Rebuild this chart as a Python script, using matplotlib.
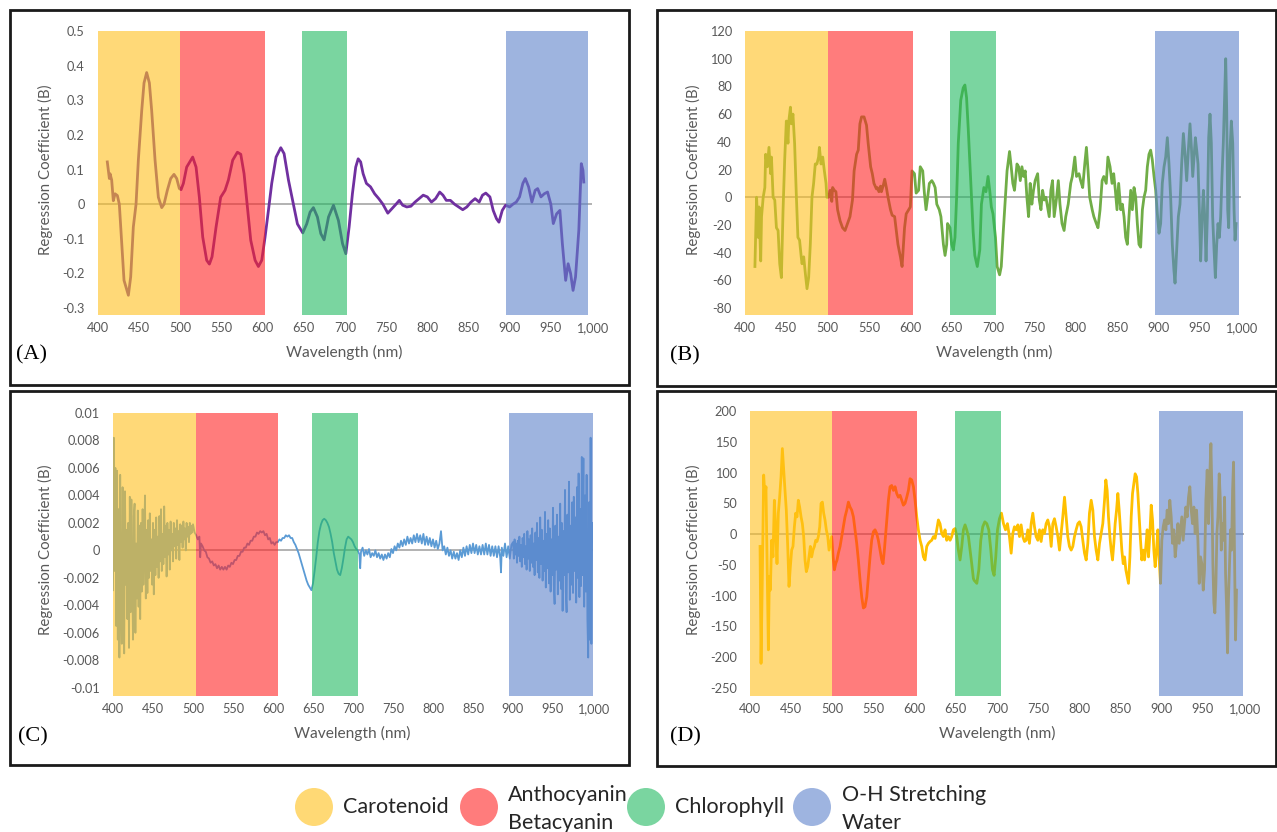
import matplotlib
matplotlib.use('Agg')
import matplotlib.pyplot as plt
from matplotlib.patches import Rectangle, Ellipse

# ---------------- DATA ----------------
x_ticks = [400, 450, 500, 550, 600, 650, 700, 750, 800, 850, 900, 950, 1000]
x_tick_labels = ['400', '450', '500', '550', '600', '650', '700', '750', '800',
                 '850', '900', '950', '1,000']

band_names = ['Carotenoid', 'Anthocyanin\nBetacyanin', 'Chlorophyll', 'O-H Stretching\nWater']

# Panel A
A_nm = [411.3, 413.8, 414.6, 416.6, 418.6, 420.7, 423.5, 425.9, 428.8, 431.6, 434, 436.9, 439.7,
        442.9, 446.2, 449, 453.1, 455.9, 459.1, 462.4, 465.2, 469.3, 473.3, 477.4, 480.2, 484.2,
        488.3, 492.3, 495.6, 498.8, 500.9, 503.7, 507.7, 515, 519.1, 523.1, 527.2, 532, 535.3,
        538.5, 543.4, 549, 554.3, 558.4, 563.6, 569.3, 573.4, 577.4, 581.4, 585.5, 590.8, 594.8,
        598.9, 602.9, 607, 611, 616.3, 622, 626, 631.3, 637.3, 642.2, 648.7, 653.5, 657.6, 661.6,
        666.5, 670.6, 674.6, 680, 686, 692, 697, 701, 705, 709, 713, 716, 719, 722, 726, 731, 736,
        741, 746, 752, 757, 762, 766, 770, 775, 780, 785, 790, 795, 800, 805, 810, 815, 819, 823,
        828, 833, 838, 843, 848, 853, 858, 863, 867, 871, 876, 880, 884, 887, 891, 895, 900, 904,
        908, 912, 916, 919, 923, 927, 931, 934, 938, 942, 946, 950, 953, 957, 961, 964, 968, 971,
        974, 977, 980, 984, 987, 989, 990]
A_val = [0.122, 0.074, 0.088, 0.07, 0.01, 0.03, 0.025, 0.0, -0.11, -0.22, -0.24, -0.263, -0.21,
         -0.066, 0.0, 0.127, 0.27, 0.35, 0.38, 0.35, 0.27, 0.127, 0.02, -0.01, 0.0, 0.04,
         0.074, 0.086, 0.074, 0.045, 0.042, 0.06, 0.107, 0.136, 0.107, 0.02, -0.095, -0.162, -0.173,
         -0.152, -0.066, 0.02, 0.04, 0.07, 0.127, 0.15, 0.144, 0.088, -0.008, -0.104, -0.162, -0.18,
         -0.162, -0.095, -0.018, 0.06, 0.136, 0.163, 0.146, 0.07, 0.0, -0.057, -0.083, -0.057, -0.023, -0.01,
         -0.037, -0.085, -0.103, -0.037, -0.003, -0.047, -0.114, -0.143, -0.066, 0.03, 0.107, 0.131, 0.122, 0.088, 0.06, 0.05, 0.03,
         0.016, 0.0, -0.026, -0.013, 0.0, 0.011, -0.003, -0.008, -0.006, 0.006, 0.016, 0.026, 0.021, 0.006, 0.016, 0.035, 0.026, 0.011,
         0.011, 0.0, -0.008, -0.016, -0.008, 0.006, 0.016, 0.006, 0.026, 0.032, 0.021, -0.018, -0.042, -0.052, -0.018, -0.003, -0.008, 0.0,
         0.006, 0.021, 0.06, 0.074, 0.05, 0.006, 0.04, 0.045, 0.021, 0.03, 0.035, 0.0, -0.056, -0.028, -0.018, -0.114, -0.22, -0.172,
         -0.2, -0.249, -0.21, -0.075, 0.117, 0.098, 0.064]

# Panel B
B_nm = [412, 414, 416, 417, 419, 420, 422, 424, 425, 427, 429, 431, 432, 434, 436, 438, 440, 442, 444,
        445, 446, 448, 450, 452, 453, 455, 456, 458, 460, 462, 464, 466, 468, 469, 471, 473, 475, 477,
        479, 481, 483, 485, 487, 489, 490, 492, 494, 496, 498, 499, 501, 503, 505, 506, 508, 510, 512,
        515, 518, 521, 524, 527, 530, 532, 535, 537, 539, 541, 544, 547, 549, 552, 554, 556, 559, 560,
        562, 564, 565, 567, 569, 571, 573, 576, 578, 581, 583, 585, 588, 590, 591, 593, 595, 598, 600,
        602, 605, 607, 610, 612, 615, 617, 619, 621, 623, 626, 628, 630, 632, 635, 637, 640, 642, 644,
        645, 648, 650, 652, 654, 656, 658, 661, 664, 666, 668, 670, 672, 674, 676, 678, 681, 684, 686,
        689, 691.5, 694, 696, 698, 700, 703, 705, 708, 710, 712.5, 715, 717, 720, 722, 724, 726, 729,
        731, 733, 735, 737, 739, 741, 743, 745, 747, 749, 751, 754, 756, 758, 760, 762, 764, 766, 768,
        770, 772, 774, 777, 779, 781, 783.5, 786, 788, 791, 794, 796, 799, 801, 804, 806, 808.5, 811,
        813, 815, 817, 820, 822, 825, 827, 829.5, 832, 834, 837, 839, 841.6, 844, 846, 848, 850, 852,
        854.5, 856.5, 858.5, 860.5, 862.5, 864.5, 866.6, 868.6, 870.6, 872.6, 874.6, 876.6, 878.6,
        880.7, 882.7, 884.7, 886.7, 888.7, 890.7, 892.7, 894.8, 896.8, 898.8, 900.8, 902.8, 904.8,
        906.9, 908.9, 910.9, 912.9, 914.9, 916.9, 918.9, 920.2, 922.2, 924.2, 926.2, 928.2, 930.3,
        932.3, 934.3, 936.3, 938.3, 940, 941.6, 943.2, 944.8, 946.4, 948, 949.6, 951.2, 952.8, 954.5,
        956.1, 957.7, 959.3, 960.9, 962.5, 964.1, 965.7, 967.4, 969, 970.6, 972.2, 973.8, 975.4, 977,
        978.6, 980.3, 981.5, 982.7, 983.9, 985.1, 986.7, 988.3, 990, 991.6, 992.8, 994]
B_val = [-50, 0, -29, -7, -46, -14, 0, 7, 31, 22, 36, 17, 29, 0, -2, -22, -24, -48, -58,
         -34, -10, 27, 55, 39, 55, 65, 53, 60, 39, 3, -29, -31, -43, -48, -43, -55, -66, -58,
         -34, 0, 10, 24, 24, 29, 36, 24, 29, 19, 10, 0, 0, 5, -3, 7, 5, 4, -9,
         -17, -22, -24, -19, -14, -2, 19, 31, 34, 53, 58, 58, 52, 39, 22, 17, 10, 6, 7,
         4, 8, 4, 8, 13, 7, 0, -9, -13, -14, -24, -34, -43, -50, -41, -22, -12, -9, -7,
         19, 17, 3, 5, 22, 19, 3, -9, 0, 10, 12, 10, 7, -5, -9, -14, -34, -42, -34,
         -19, -22, -34, -38, -29, 0, 39, 70, 79, 81, 72, 50, 25, 0, -25, -42, -50, -38, -5,
         7, 4, 15, 5, -7, -12, -29, -50, -56, -50, -24, 0, 19, 33, 22, 10, 5, 24,
         22, 12, 22, 15, 19, 0, -14, 10, -5, 5, 12, 17, -2, -9, 5, -2, 0, -7, -14,
         5, 12, -14, 0, 12, -5, -19, -24, -14, -5, 10, 15, 29, 15, 17, 12, 7, 24,
         36, 19, 0, -9, -14, -19, -22, -9, 12, 15, 10, 29, 22, 10, 17, 5, -9, 10,
         -9, -5, -14, -29, -34, -14, 5, -9, 7, 0, -19, -34, -36,
         -9, 0, 5, 22, 31, 34, 27, 15, 5, -12, -26, -19, 10,
         22, 29, 43, 24, 0, -34, -53, -62, -38, -14, -5, 24, 46,
         31, 12, 34, 53, 36, 15, 29, 43, 34, 24, -9, -46, -17, 5,
         -14, -46, -14, 43, 60, 39, -14, -38, -58, -34, -19, -29, -14, 15,
         39, 75, 100, 63, -9, -22, 34, 55, 39, -9, -31, -19]

# Panel C (values in units of 0.001)
C_left_nm = list(range(400, 501))
C_left_val = [-2.9, 8.2, -1.5, 6.0, -5.5, 5.8, -6.5, 3.0, -7.8, 5.5, -4.0, -6.8, 4.6, -3.0, -7.5, 4.3,
              -2.5, 1.5, -5.0, 2.0, -7.1, 3.9, -4.5, 3.7, -2.0, -6.5, 2.5, 3.4, -6.0, 0.5, -3.5, 2.9,
              -4.1, 1.8, -5.0, 2.0, -3.0, 3.0, -2.5, 1.0, 4.0, -3.5, 1.5, -3.1, 2.2, -2.0, 2.7, -1.5,
              0.8, -2.5, 2.0, -3.2, 1.5, -1.8, 2.4, -1.2, 1.0, -2.0, 2.5, -0.8, 3.0, -1.5, 1.2, -1.0,
              3.2, -0.5, 1.8, -1.9, 2.0, -0.3, 1.5, -1.4, 2.1, 0.0, 1.2, -0.8, 2.0, 0.3, 1.6, -0.6,
              2.2, 0.4, 1.4, -0.7, 1.9, 0.6, 1.8, 0.2, 2.1, 0.8, 1.6, 0.0, 2.0, 1.0, 1.7, 0.6, 2.0,
              1.2, 1.8, 1.3, 1.9]
C_mid_nm = [502, 504, 506, 508, 509, 510, 512, 514, 516, 518, 520, 522, 524, 526, 528, 530, 532, 534,
            536, 538, 540, 542, 544, 546, 548, 550, 552, 554, 556, 558, 560, 562, 564, 566, 568, 570,
            572, 574, 576, 578, 580, 582, 584, 586, 588, 590, 592, 594, 596, 598, 600, 602, 604, 606,
            608, 610, 612, 614, 616, 618, 620, 622, 624, 626, 628, 630, 632, 634, 636, 638, 640, 642,
            644, 646, 648, 650, 652, 654, 656, 658, 660, 662, 664, 666, 668, 670, 672, 674, 676, 678,
            680, 682, 684, 686, 688, 690, 692, 694, 696, 698, 700, 702, 704, 706, 708, 709, 710, 712,
            714, 716, 718, 720, 722, 724, 726, 728, 730, 732, 734, 736, 738, 740, 742, 744, 746, 748,
            750, 752, 754, 756, 758, 760, 762, 764, 766, 768, 770, 772, 774, 776, 778, 780, 782, 784,
            786, 788, 790, 792, 794, 796, 798, 800, 802, 804, 806, 808, 810, 812, 814, 816, 818, 820,
            822, 824, 826, 828, 830, 832, 834, 836, 838, 840, 842, 844, 846, 848, 850, 852, 854, 856,
            858, 860, 862, 864, 866, 868, 870, 872, 874, 876, 878, 880, 882, 884, 885, 886, 888, 890,
            892, 894, 896, 898]
C_mid_val = [1.3, 1.1, 0.8, 1.0, -0.5, 0.5, 0.3, 0.0, -0.1, -0.5, -0.6, -0.9, -0.8, -1.1, -1.0, -1.3,
             -1.1, -1.4, -1.2, -1.4, -1.2, -1.4, -1.1, -1.2, -0.9, -1.0, -0.7, -0.7, -0.4, -0.4, -0.1,
             -0.1, 0.2, 0.2, 0.5, 0.4, 0.7, 0.7, 1.0, 1.0, 1.3, 1.2, 1.4, 1.3, 1.4, 1.1, 1.2, 0.8, 0.9,
             0.5, 0.6, 0.4, 0.6, 0.6, 0.8, 0.7, 0.9, 0.9, 1.1, 1.0, 1.1, 0.9, 0.9, 0.6, 0.4, 0.1, -0.2,
             -0.6, -1.0, -1.4, -1.8, -2.2, -2.5, -2.7, -2.9, -2.4, -1.5, -0.5, 0.6, 1.4, 1.9, 2.2, 2.3,
             2.2, 2.0, 1.7, 1.2, 0.6, -0.2, -0.8, -1.4, -1.7, -1.8, -1.3, -0.6, 0.2, 0.8, 1.0, 0.9, 0.8,
             0.6, 0.3, 0.1, 0.0, -0.3, -1.3, -0.1, 0.2, -0.4, 0.0, -0.3, 0.1, -0.5, -0.2, -0.4, 0.0, -0.5,
             -0.2, -0.6, -0.3, -0.7, -0.3, -0.6, -0.2, -0.5, 0.1, -0.2, 0.3, 0.0, 0.5, 0.2, 0.7, 0.3, 0.8,
             0.4, 1.0, 0.5, 0.9, 0.5, 1.1, 0.6, 1.2, 0.6, 1.1, 0.5, 1.2, 0.4, 1.0, 0.4, 0.9, 0.3, 0.8, 0.2,
             0.7, 0.1, 0.5, 1.4, 0.0, 0.3, -0.3, 0.2, -0.4, 0.0, -0.6, -0.1, -0.6, -0.2, -0.7, 0.0, -0.5,
             0.2, -0.4, 0.3, -0.3, 0.4, -0.2, 0.5, -0.2, 0.4, -0.3, 0.3, -0.3, 0.4, -0.3, 0.5, -0.3, 0.4,
             -0.4, 0.3, -0.4, 0.3, -0.5, 0.3, -0.5, -1.6, 0.2, -0.4, 0.5, -0.5, 0.3, -0.6, 0.4]
C_right_nm = list(range(900, 1000))
C_right_val = [0.6, -0.6, 0.8, -0.3, 0.5, -0.9, 0.7, -0.4, 1.0, -0.8, 0.4, -1.2, 0.9, -0.5, 1.2, -1.0,
               0.3, -1.4, 1.4, -0.6, 0.8, -1.5, 1.1, -0.9, 1.6, -1.2, 0.5, -1.8, 1.3, -0.7, 2.0, -1.6,
               0.9, -2.0, 2.4, -1.0, 1.5, -2.2, 0.7, -1.5, 2.8, -2.7, 1.2, -1.3, 2.2, -2.4, 1.6, -3.0,
               0.8, -1.8, 3.1, -2.5, -3.9, 1.8, -1.4, 2.6, -3.2, 1.0, -2.2, 3.4, -2.8, 2.0, -4.4, 1.4,
               -1.8, 4.4, -3.0, -4.5, 2.6, -1.6, 5.0, -3.6, 1.8, -2.5, 3.5, -3.1, 3.9, -1.5, 2.4, -3.8,
               4.6, -2.0, 5.6, -3.4, 3.0, -2.6, 6.8, -1.8, 6.7, -4.1, 4.0, -3.0, 5.5, -5.0, -7.8, 3.5,
               -6.5, 8.2, -6.8, 2.0]

# Panel D
D_nm = [412.2, 413.4, 415, 416.6, 418.2, 419.4, 420.7, 422.3, 423.5, 424.7, 426.3, 427.9, 429.6,
        431.2, 432.8, 434.4, 436, 437.7, 439.3, 440.9, 442.5, 444.1, 445.8, 447.4, 449, 450.6, 452.2,
        453.9, 455.5, 457.1, 458.7, 460.3, 462, 463.6, 465.2, 466.8, 468.4, 470.1, 471.7, 473.3,
        474.9, 476.5, 478.2, 479.8, 481.4, 483, 484.7, 486.3, 487.9, 489.5, 491.1, 492.7, 494.4, 496,
        497.6, 499.2, 500.9, 502.5, 504.1, 505.7, 507.3, 509.4, 511.4, 513.4, 515.4, 517.5, 519.5,
        521.5, 523.5, 525.6, 527.6, 529.6, 531.6, 533.7, 535.7, 537.7, 539.7, 541.8, 543.8, 545.8,
        547.8, 549.9, 551.9, 553.9, 555.9, 558, 560, 561.6, 563.2, 564.8, 566.5, 568.1, 570.1, 572.1,
        574.2, 576.2, 578.2, 580.2, 582.3, 584.3, 586.3, 588.3, 590.4, 592.4, 594.4, 596.4, 598.5,
        600.5, 602.5, 604.5, 606.6, 608.6, 610.6, 612.6, 614.7, 616.7, 618.7, 620.7, 622.8, 624.8,
        626.8, 628.8, 630.8, 632.9, 634.9, 636.9, 638.9, 641, 643, 645, 647, 649.1, 651.1, 653.1,
        655.1, 657.2, 659.2, 661.2, 663.2, 665.3, 667.3, 669.3, 671.3, 672.2, 675.5, 677.9, 680.3,
        682.7, 685.2, 687.6, 690, 692.5, 694.5, 696.5, 698.5, 700.6, 703, 705.4, 707.9, 710.3, 712.7,
        715.1, 717.2, 719.2, 721.2, 723.2, 725.3, 727.3, 729.3, 731.3, 733.4, 735.4, 737.4, 739.4,
        741.5, 743.5, 745.5, 747.5, 749.6, 751.6, 753.6, 755.6, 757.7, 759.7, 761.7, 763.7, 765.8,
        767.8, 769.8, 771.8, 773.9, 775.9, 777.9, 779.9, 782, 784, 786, 788, 790.1, 792.1, 794.1,
        796.1, 798.2, 800.2, 802.2, 804.2, 806.3, 808.3, 810.3, 812.3, 814.4, 816.4, 818.4, 820.4,
        822.5, 824.5, 826.5, 828.5, 830.6, 832.2, 833.8, 835.4, 837.1, 838.7, 840.3, 841.9, 843.5,
        845.2, 846.8, 848.4, 850, 851.6, 853.3, 854.9, 856.5, 858.1, 859.7, 861.4, 863, 864.6, 866.2,
        867.8, 869.5, 871.1, 872.7, 874.3, 875.9, 877.6, 879.2, 880.8, 882.4, 884, 885.7, 887.3,
        888.9, 890.5, 892.1, 893.8, 895.4, 897, 898.6, 900.2, 901.9, 903.5, 905.1, 906.7, 908.3,
        909.9, 911.6, 913.2, 914.8, 916.4, 918, 919.7, 921.3, 922.9, 924.5, 926.1, 927.8, 929.4, 931,
        932.6, 934.2, 935.9, 937.5, 939.1, 940.7, 942.4, 944, 945.6, 947.2, 948.8, 950.5, 952.1,
        953.7, 955.3, 956.9, 958.5, 959.8, 961, 962.2, 963.4, 964.6, 965.9, 967.1, 968.3, 969.9,
        971.1, 972.4, 973.6, 975.2, 976.4, 977.6, 978.8, 980, 981.2, 982.5, 983.7, 984.9, 986.1,
        987.3, 988.5, 989.7, 990.9]
D_val = [-20, -210, -69, 96, 60, 77, -37, -188, -69, -91, -10, -37, 55,
         7, -48, 34, 60, 93, 139, 104, 71, 39, -20, -85, -53, -26, -20,
         12, 34, 28, 55, 44, 28, 17, -4, -42, -61, -53, -37, -20,
         -37, -26, -20, -10, -12, -4, 12, 50, 52, 34, 23, 7, -4, -26,
         -15, -4, -37, -58, -48, -42, -31, -20, -4, 12, 28, 39, 52,
         44, 39, 28, 7, -15, -42, -75, -102, -120, -118, -102, -69, -37,
         -10, 4, 7, 1, -10, -26, -42, -48, -26, 1, 28, 55, 77, 79,
         71, 77, 66, 60, 63, 55, 47, 50, 60, 71, 90, 88, 77,
         55, 28, 7, -10, -20, -37, -42, -20, -15, -12, -10, -4, -7,
         7, 23, 17, 1, -4, 7, -10, -4, -10, -4, 7, 9, -4, -26,
         -42, -20, 7, 15, 7, -4, -26, -48, -72, -75, -80, -58, -10,
         12, 20, 17, 7, -26, -58, -67, -37, 7, 25, 34, 17, 7, 17,
         -4, -31, 1, 12, 7, 15, -4, 15, -4, -12, -10, 7, -15,
         17, 34, 12, -4, -10, 7, -12, 7, 1, 17, 23, 12, -20,
         17, 25, 12, -4, -26, 1, 28, 60, 28, -4, -20, -26, -20, -4,
         7, 17, 20, 12, -10, -31, -42, -15, 34, 55, 39, -4,
         -26, -42, -15, 1, 17, 55, 88, 71, 28, -4, -26, -42, -15,
         17, 39, 66, 39, 7, -26, -48, -37, -58, -69, -80, -37, 28, 66,
         82, 98, 93, 66, 28, -10, -42, -26, -42, -20, 7, -37, 1,
         47, 23, -26, -53, -26, 7, -42, -80, -10, 12, 23, 7, 39,
         17, 55, 28, -15, 7, -37, -15, 17, -15, 7, 28, -10, 17, 44,
         28, 60, 77, 39, 17, 44, 1, 39, -10, -80, -37, -48, -91, -58,
         55, 104, 17, 98, 147, 71, -48, -112, -128, -80, 1, 28, 98,
         60, -26, 17, -10, 60, -64, -118, -193, -102, -48, 7, -26, 71,
         117, -37, -172, -91]

panels = [
    dict(label='(A)', nm=[A_nm], val=[A_val], scale=1.0, color='#7030A0', lw=2.0,
         ylim=(-0.32, 0.5), yticks=[0.5, 0.4, 0.3, 0.2, 0.1, 0, -0.1, -0.2, -0.3],
         ytl=['0.5', '0.4', '0.3', '0.2', '0.1', '0', '-0.1', '-0.2', '-0.3'],
         bands=[(400, 500), (500, 603), (648, 703), (895, 995)],
         ax_px=(98, 31, 592, 315), frame=(10, 10, 629, 385),
         ylab=(45, 170), xlab=(344, 352), plab=(16, 355)),
    dict(label='(B)', nm=[B_nm], val=[B_val], scale=1.0, color='#70AD47', lw=2.0,
         ylim=(-85, 120), yticks=[120, 100, 80, 60, 40, 20, 0, -20, -40, -60, -80],
         ytl=['120', '100', '80', '60', '40', '20', '0', '-20', '-40', '-60', '-80'],
         bands=[(400, 500), (500, 603), (648, 704), (896, 998)],
         ax_px=(745, 31, 1241, 315), frame=(657, 10, 1276, 386),
         ylab=(693, 170), xlab=(994, 352), plab=(670, 356)),
    dict(label='(C)', nm=[C_left_nm, C_mid_nm, C_right_nm], val=[C_left_val, C_mid_val, C_right_val],
         scale=0.001, color='#5B9BD5', lw=1.3,
         ylim=(-0.0106, 0.01),
         yticks=[0.01, 0.008, 0.006, 0.004, 0.002, 0, -0.002, -0.004, -0.006, -0.008, -0.01],
         ytl=['0.01', '0.008', '0.006', '0.004', '0.002', '0', '-0.002', '-0.004', '-0.006',
              '-0.008', '-0.01'],
         bands=[(400, 504), (504, 606), (649, 706), (895, 1001)],
         ax_px=(113, 413, 593, 696), frame=(10, 391, 629, 765),
         ylab=(45, 550), xlab=(352, 733), plab=(18, 737)),
    dict(label='(D)', nm=[D_nm], val=[D_val], scale=1.0, color='#FFC000', lw=2.0,
         ylim=(-263, 200), yticks=[200, 150, 100, 50, 0, -50, -100, -150, -200, -250],
         ytl=['200', '150', '100', '50', '0', '-50', '-100', '-150', '-200', '-250'],
         bands=[(400, 500), (500, 603), (649, 705), (897, 999)],
         ax_px=(750, 411, 1244, 696), frame=(657, 391, 1276, 766),
         ylab=(693, 550), xlab=(997, 733), plab=(670, 737)),
]

band_colors = ['#FFC11E', '#FF2525', '#21B961', '#5D82CB']
band_alpha = 0.6
legend_colors = ['#FFD975', '#FF7C7C', '#7AD5A0', '#9EB4E0']

# ---------------- FIGURE ----------------
W, H = 1277, 832
plt.rcParams['font.family'] = ['Lato', 'DejaVu Sans']
fig = plt.figure(figsize=(W / 100, H / 100), dpi=100)
fig.patch.set_facecolor('white')

tick_color = '#595959'


def px_axes(x0, y0, x1, y1):
    return fig.add_axes([x0 / W, 1 - y1 / H, (x1 - x0) / W, (y1 - y0) / H])


for p in panels:
    ax = px_axes(*p['ax_px'])
    ax.set_xlim(400, 1000)
    ax.set_ylim(*p['ylim'])
    ax.axhline(0, color='#A6A6A6', lw=1.2, zorder=1)
    all_nm = []
    all_val = []
    for nms, vals in zip(p['nm'], p['val']):
        all_nm += list(nms)
        all_val += [v * p['scale'] for v in vals]
    ax.plot(all_nm, all_val, color=p['color'], lw=p['lw'], zorder=2, solid_joinstyle='round')
    for (b0, b1), bc in zip(p['bands'], band_colors):
        ax.axvspan(b0, b1, color=bc, alpha=band_alpha, lw=0, zorder=3)
    for s in ax.spines.values():
        s.set_visible(False)
    ax.set_xticks(x_ticks)
    ax.set_xticklabels(x_tick_labels)
    ax.set_yticks(p['yticks'])
    ax.set_yticklabels(p['ytl'])
    ax.tick_params(axis='both', length=0, labelsize=9.2, labelcolor=tick_color)
    ax.tick_params(axis='y', pad=9.5)
    ax.tick_params(axis='x', pad=5)
    ax.set_facecolor('none')

    fig.text(p['ylab'][0] / W, 1 - p['ylab'][1] / H, 'Regression Coefficient (B)', rotation=90,
             ha='center', va='center', fontsize=10.8, color=tick_color)
    fig.text(p['xlab'][0] / W, 1 - p['xlab'][1] / H, 'Wavelength (nm)',
             ha='center', va='center', fontsize=11.2, color=tick_color)
    fig.text(p['plab'][0] / W, 1 - p['plab'][1] / H, p['label'], ha='left', va='center',
             fontsize=16, color='black', family=['Liberation Serif', 'DejaVu Serif'])
    fx0, fy0, fx1, fy1 = p['frame']
    fig.add_artist(Rectangle((fx0 / W, 1 - fy1 / H), (fx1 - fx0) / W, (fy1 - fy0) / H,
                             transform=fig.transFigure, fill=False, edgecolor='#1A1A1A', lw=2.0))

# ---------------- LEGEND ----------------
leg_circle_x = [314, 479, 646, 812]
leg_text_x = [343, 508, 675, 842]
leg_y = 807
for cx, tx, name, col in zip(leg_circle_x, leg_text_x, band_names, legend_colors):
    fig.add_artist(Ellipse((cx / W, 1 - leg_y / H), 38 / W, 38 / H, transform=fig.transFigure,
                           facecolor=col, edgecolor='none'))
    lines = name.split('\n')
    if len(lines) == 1:
        fig.text(tx / W, 1 - leg_y / H, lines[0], ha='left', va='center', fontsize=15.5,
                 color='#262626')
    else:
        fig.text(tx / W, 1 - 795 / H, lines[0], ha='left', va='center', fontsize=15.5, color='#262626')
        fig.text(tx / W, 1 - 823 / H, lines[1], ha='left', va='center', fontsize=15.5, color='#262626')

fig.savefig('out.png', dpi=100, facecolor='white')
